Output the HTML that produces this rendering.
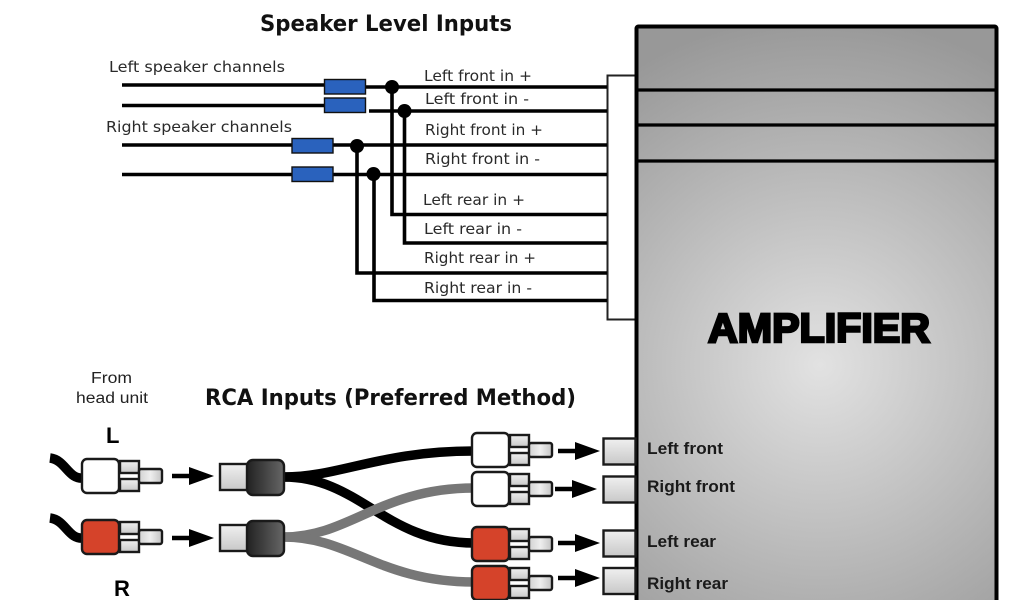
<!DOCTYPE html>
<html><head><meta charset="utf-8"><style>
html,body{margin:0;padding:0;background:#fff}
svg{display:block}
text{font-family:"Liberation Sans",sans-serif;fill:#222}
.t{font-family:"DejaVu Sans",sans-serif;font-size:15.5px;fill:#2a2a2a}
.h{font-family:"DejaVu Sans",sans-serif;font-weight:bold;fill:#111;font-size:22px}
.b{font-weight:bold;fill:#000}
.a{font-weight:bold;font-size:16.500px;fill:#1a1a1a}
</style></head><body>
<svg width="1024" height="600" viewBox="0 0 1024 600" xmlns="http://www.w3.org/2000/svg">
<defs>
<radialGradient id="amp" gradientUnits="userSpaceOnUse" cx="820" cy="365" r="350">
<stop offset="0" stop-color="#e2e2e2"/><stop offset="1" stop-color="#989898"/></radialGradient>
<linearGradient id="m" x1="0" y1="0" x2="1" y2="0"><stop offset="0" stop-color="#d2d2d2"/><stop offset=".5" stop-color="#eee"/><stop offset="1" stop-color="#c4c4c4"/></linearGradient>
<linearGradient id="s" x1="0" y1="0" x2="0" y2="1"><stop offset="0" stop-color="#f0f0f0"/><stop offset="1" stop-color="#c8c8c8"/></linearGradient>
<linearGradient id="d" x1="0" y1="0" x2="1" y2="0"><stop offset="0" stop-color="#222"/><stop offset="1" stop-color="#666"/></linearGradient>
<g id="pins">
<rect x="39" y="2" width="19" height="12" fill="url(#s)" stroke="#1a1a1a" stroke-width="2.400"/>
<rect x="39" y="20" width="19" height="12" fill="url(#s)" stroke="#1a1a1a" stroke-width="2.400"/>
<rect x="58" y="10" width="23" height="14" rx="2" fill="url(#m)" stroke="#1a1a1a" stroke-width="2.400"/>
</g>
<g id="pw"><use href="#pins"/><rect x="1" y="0" width="37" height="34" rx="5" fill="#fff" stroke="#1a1a1a" stroke-width="2.400"/></g>
<g id="pr"><use href="#pins"/><rect x="1" y="0" width="37" height="34" rx="5" fill="#d5432a" stroke="#1a1a1a" stroke-width="2.400"/></g>
<g id="ar"><path d="M0 0H18" stroke="#000" stroke-width="4.500"/><path d="M17-9L42 0 17 9Z" fill="#000"/></g>
<g id="fem"><rect x="0" y="4" width="28" height="26" fill="url(#s)" stroke="#1a1a1a" stroke-width="2.400"/><rect x="27" y="0" width="37" height="35" rx="6" fill="url(#d)" stroke="#1a1a1a" stroke-width="2.400"/></g>
</defs>
<rect width="1024" height="600" fill="#fff"/>

<!-- amplifier -->
<rect x="607.500" y="75.500" width="30" height="244" fill="#fff" stroke="#222" stroke-width="2"/>
<rect x="636.500" y="26.500" width="360" height="590" rx="2" fill="url(#amp)" stroke="#000" stroke-width="4"/>
<path d="M637 90H997M637 125H997M637 161H997" stroke="#000" stroke-width="3.200"/>

<!-- speaker wires -->
<g fill="none" stroke="#000" stroke-width="3.600">
<path d="M122 85H325M366 87H607"/>
<path d="M122 105.500H325M369 111H607"/>
<path d="M122 145H607"/>
<path d="M122 174.500H607"/>
<path d="M392 87V214.500H607"/>
<path d="M404.500 111V243H607"/>
<path d="M357 146V273H607"/>
<path d="M374 174V300.500H607"/>
</g>
<g fill="#000"><circle cx="392" cy="87" r="7"/><circle cx="404.500" cy="111" r="7"/><circle cx="357" cy="146" r="7"/><circle cx="373.500" cy="174" r="7"/></g>
<g fill="#2a62bd" stroke="#111" stroke-width="1.400">
<rect x="324.500" y="79.500" width="41" height="14.500"/>
<rect x="324.500" y="98" width="41" height="14.500"/>
<rect x="292" y="138.500" width="41" height="14.500"/>
<rect x="292" y="167" width="41" height="14.500"/>
</g>

<text x="260" y="31" class="h" textLength="252" lengthAdjust="spacingAndGlyphs">Speaker Level Inputs</text>
<text x="109" y="72" class="t" textLength="176" lengthAdjust="spacingAndGlyphs">Left speaker channels</text>
<text x="106" y="132" class="t" textLength="186" lengthAdjust="spacingAndGlyphs">Right speaker channels</text>
<text x="424" y="81" class="t" textLength="108" lengthAdjust="spacingAndGlyphs">Left front in +</text>
<text x="425" y="104" class="t" textLength="104" lengthAdjust="spacingAndGlyphs">Left front in -</text>
<text x="425" y="135" class="t" textLength="118" lengthAdjust="spacingAndGlyphs">Right front in +</text>
<text x="425" y="164" class="t" textLength="115" lengthAdjust="spacingAndGlyphs">Right front in -</text>
<text x="423" y="205" class="t" textLength="102" lengthAdjust="spacingAndGlyphs">Left rear in +</text>
<text x="424" y="234" class="t" textLength="98" lengthAdjust="spacingAndGlyphs">Left rear in -</text>
<text x="424" y="263" class="t" textLength="112" lengthAdjust="spacingAndGlyphs">Right rear in +</text>
<text x="424" y="293" class="t" textLength="108" lengthAdjust="spacingAndGlyphs">Right rear in -</text>

<text x="708" y="342" font-size="41" class="b" stroke="#000" stroke-width="2.600" textLength="222" lengthAdjust="spacingAndGlyphs">AMPLIFIER</text>

<text x="91" y="383" font-size="15.500" textLength="41" lengthAdjust="spacingAndGlyphs">From</text>
<text x="76" y="403" font-size="15.500" textLength="72" lengthAdjust="spacingAndGlyphs">head unit</text>
<text x="205" y="405" class="h" textLength="371" lengthAdjust="spacingAndGlyphs">RCA Inputs (Preferred Method)</text>
<text x="106" y="443" class="b" font-size="22">L</text>
<text x="114" y="596" class="b" font-size="22">R</text>

<!-- cables -->
<g fill="none" stroke-width="9.500">
<path d="M50 458C66 460 68 480 84 478" stroke="#000"/>
<path d="M50 518C66 520 68 540 84 538" stroke="#000"/>
<path d="M284 477C340 477 380 451 474 451" stroke="#000"/>
<path d="M284 477C360 477 385 543 474 543" stroke="#000"/>
<path d="M284 537C350 537 380 488 474 488" stroke="#777"/>
<path d="M284 537C350 537 380 582 474 582" stroke="#777"/>
</g>

<use href="#pw" x="81" y="459"/>
<use href="#pr" x="81" y="520"/>
<use href="#ar" x="172" y="476"/>
<use href="#ar" x="172" y="538"/>
<use href="#fem" x="220" y="460"/>
<use href="#fem" x="220" y="521"/>

<use href="#pw" x="471" y="433"/>
<use href="#pw" x="471" y="472"/>
<use href="#pr" x="471" y="527"/>
<use href="#pr" x="471" y="566"/>

<use href="#ar" x="558" y="451"/>
<use href="#ar" x="555" y="489"/>
<use href="#ar" x="558" y="543"/>
<use href="#ar" x="558" y="578"/>

<g fill="url(#s)" stroke="#1a1a1a" stroke-width="2.400">
<rect x="603.500" y="438.500" width="32" height="26"/>
<rect x="603.500" y="476.500" width="32" height="26"/>
<rect x="603.500" y="530.500" width="32" height="26"/>
<rect x="603.500" y="568" width="32" height="26"/>
</g>

<text x="647" y="454" class="a" textLength="76" lengthAdjust="spacingAndGlyphs">Left front</text>
<text x="647" y="492" class="a" textLength="88" lengthAdjust="spacingAndGlyphs">Right front</text>
<text x="647" y="547" class="a" textLength="69" lengthAdjust="spacingAndGlyphs">Left rear</text>
<text x="647" y="589" class="a" textLength="81" lengthAdjust="spacingAndGlyphs">Right rear</text>
</svg>
</body></html>
